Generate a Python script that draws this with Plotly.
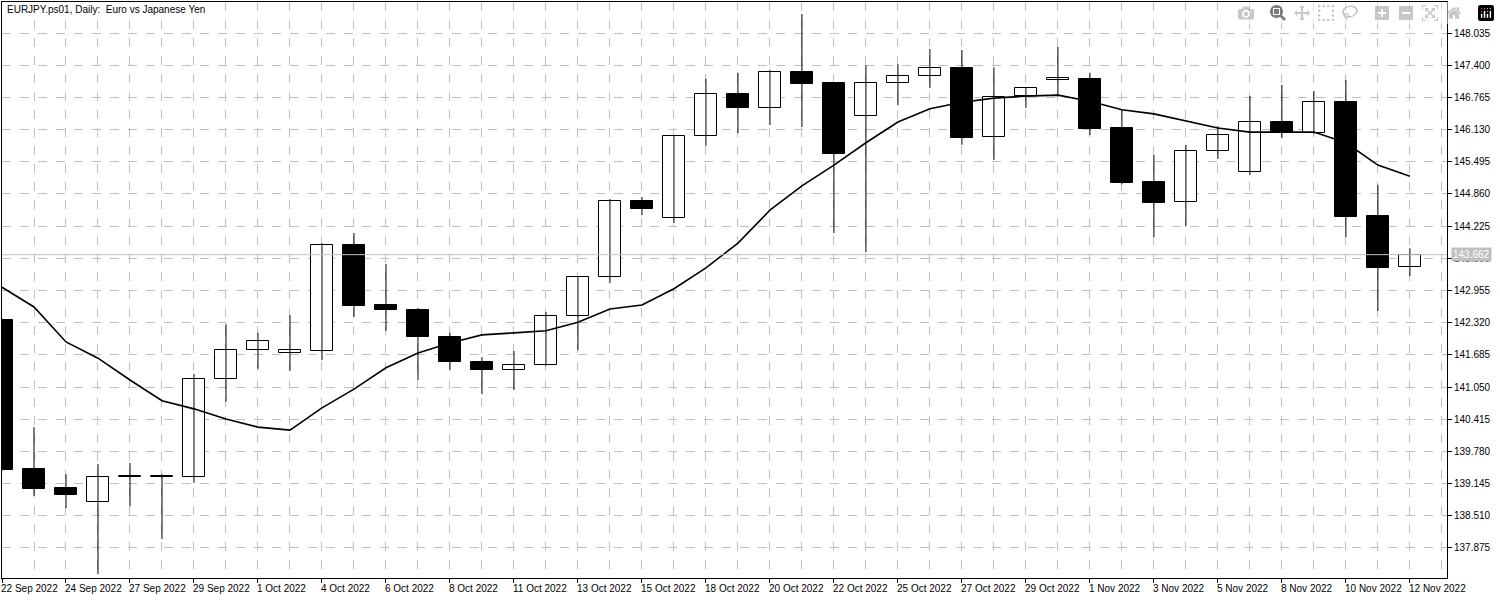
import plotly.graph_objects as go

# daily EURJPY bars
opens = [142.37, 139.43, 139.06, 138.78, 139.27, 139.27, 139.28, 141.21, 141.78, 141.72,
         141.76, 143.85, 142.67, 142.57, 142.04, 141.54, 141.39, 141.49, 142.45, 143.22,
         144.72, 144.39, 146.00, 146.83, 146.56, 147.27, 147.05, 146.40, 147.05, 147.19,
         147.34, 145.98, 146.79, 147.11, 147.13, 146.16, 145.09, 144.70, 145.71, 145.29,
         146.28, 146.06, 146.67, 144.43, 143.42]
highs = [142.40, 140.26, 139.33, 139.53, 139.55, 139.33, 141.31, 142.29, 142.12, 142.47,
         143.89, 144.09, 143.48, 142.61, 142.12, 141.64, 141.76, 142.53, 143.24, 144.76,
         144.80, 146.02, 147.13, 147.25, 147.31, 148.41, 147.06, 147.40, 147.42, 147.72,
         147.70, 147.36, 146.97, 147.76, 147.25, 146.52, 145.63, 145.83, 146.20, 146.79,
         147.01, 146.89, 147.11, 145.04, 143.79]
lows = [139.40, 138.90, 138.66, 137.36, 138.70, 138.05, 139.16, 140.76, 141.41, 141.37,
        141.58, 142.43, 142.16, 141.19, 141.39, 140.91, 140.99, 141.47, 141.78, 143.10,
        144.44, 144.29, 145.81, 146.06, 146.22, 146.18, 144.09, 143.71, 146.61, 146.95,
        145.83, 145.53, 146.56, 146.81, 146.02, 145.05, 144.01, 144.23, 145.55, 145.23,
        145.96, 146.04, 144.01, 142.55, 143.24]
closes = [139.41, 139.04, 138.92, 139.28, 139.28, 139.29, 141.21, 141.78, 141.96, 141.78,
          143.85, 142.65, 142.57, 142.04, 141.54, 141.39, 141.49, 142.45, 143.22, 144.72,
          144.56, 146.00, 146.83, 146.56, 147.27, 147.03, 145.65, 147.05, 147.19, 147.34,
          145.96, 146.77, 146.95, 147.12, 146.14, 145.08, 144.68, 145.71, 146.02, 146.28,
          146.08, 146.67, 144.40, 143.40, 143.662]
ma = [143.02, 142.63, 141.94, 141.62, 141.19, 140.78, 140.62, 140.42, 140.26, 140.20,
      140.64, 141.01, 141.43, 141.72, 141.92, 142.08, 142.12, 142.16, 142.33, 142.59,
      142.67, 142.99, 143.40, 143.89, 144.54, 145.02, 145.43, 145.87, 146.28, 146.54,
      146.67, 146.75, 146.79, 146.81, 146.69, 146.52, 146.44, 146.30, 146.16, 146.08,
      146.08, 146.08, 145.87, 145.43, 145.21]
date_labels = ["22 Sep 2022", "24 Sep 2022", "27 Sep 2022", "29 Sep 2022", "1 Oct 2022",
               "4 Oct 2022", "6 Oct 2022", "8 Oct 2022", "11 Oct 2022", "13 Oct 2022",
               "15 Oct 2022", "18 Oct 2022", "20 Oct 2022", "22 Oct 2022", "25 Oct 2022",
               "27 Oct 2022", "29 Oct 2022", "1 Nov 2022", "3 Nov 2022", "5 Nov 2022",
               "8 Nov 2022", "10 Nov 2022", "12 Nov 2022"]
price_ticks = [148.035, 147.400, 146.765, 146.130, 145.495, 144.860, 144.225, 143.590,
               142.955, 142.320, 141.685, 141.050, 140.415, 139.780, 139.145, 138.510, 137.875]
last_price = 143.662

FONT = "Liberation Sans"
n = len(opens)
idx = list(range(n))

fig = go.Figure()

# wicks
wx, wy = [], []
for i in idx:
    wx += [i, i, None]
    wy += [lows[i], highs[i], None]
fig.add_trace(go.Scatter(x=wx, y=wy, mode="lines", line=dict(color="black", width=1),
                         hoverinfo="skip", showlegend=False))

# bodies
base = [min(o, c) for o, c in zip(opens, closes)]
height = [max(abs(c - o), 0.03) for o, c in zip(opens, closes)]
fill = ["white" if c >= o else "black" for o, c in zip(opens, closes)]
fig.add_trace(go.Bar(x=idx, y=height, base=base, width=0.69,
                     marker=dict(color=fill, line=dict(color="black", width=1)),
                     showlegend=False))

# moving average
fig.add_trace(go.Scatter(x=idx, y=ma, mode="lines", line=dict(color="black", width=1.6),
                         showlegend=False))

fig.add_hline(y=last_price, line=dict(color="#c0c0c0", width=1))

annotations = [dict(x=i * 2, y=0, xref="x", yref="paper", yanchor="top", xanchor="left",
                    text=lab, showarrow=False, yshift=-3, xshift=-3,
                    font=dict(size=10, color="black", family=FONT))
               for i, lab in enumerate(date_labels)]
annotations.append(dict(x=0.002, y=1, xref="paper", yref="paper", xanchor="left",
                        yanchor="top", showarrow=False,
                        text="EURJPY.ps01, Daily:  Euro vs Japanese Yen",
                        font=dict(size=10, color="black", family=FONT),
                        bgcolor="white"))
annotations.append(dict(x=1, y=last_price, xref="paper", yref="y", xanchor="left",
                        showarrow=False, text=f"{last_price:.3f}", xshift=4,
                        bgcolor="#c0c0c0", borderpad=1,
                        font=dict(size=10, color="white", family=FONT)))

fig.update_layout(
    width=1500, height=600,
    margin=dict(l=2, r=53, t=2, b=22),
    plot_bgcolor="white", paper_bgcolor="white",
    bargap=0, annotations=annotations,
    xaxis=dict(range=[0, 45.16], tickvals=list(range(0, n, 2)), showticklabels=False,
               ticks="outside", ticklen=4, tickcolor="black",
               showgrid=True, gridcolor="#c0c0c0", griddash="dash",
               minor=dict(dtick=1, tick0=0, showgrid=True, gridcolor="#c0c0c0", griddash="dash"),
               showline=True, linecolor="black", mirror=True, zeroline=False),
    yaxis=dict(range=[137.283, 148.647], side="right", tickvals=price_ticks,
               ticktext=[f"{t:.3f}" for t in price_ticks], ticks="outside", ticklen=4,
               tickcolor="black", tickfont=dict(size=10, color="black", family=FONT),
               showgrid=True, gridcolor="#c0c0c0", griddash="dash",
               showline=True, linecolor="black", mirror=True, zeroline=False),
)

fig.write_html("out.html", post_script="document.body.style.margin='0';")
